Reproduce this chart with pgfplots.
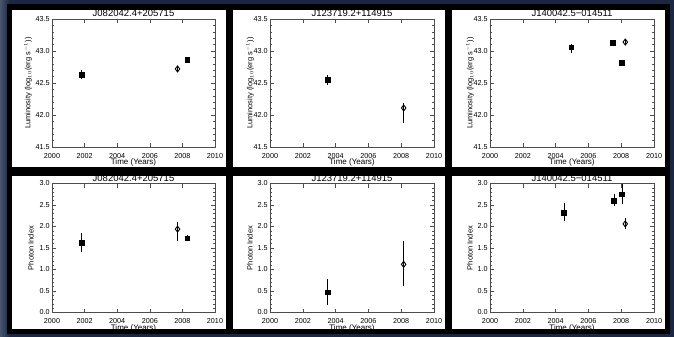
\documentclass[border=0pt]{standalone}
\usepackage{fontspec}
\setmainfont{Liberation Sans}
\usepackage{pgfplots}
\pgfplotsset{compat=1.18}
\definecolor{navy}{RGB}{26,38,66}
\definecolor{navyl}{RGB}{70,84,108}
\pgfplotsset{
  panel/.style={
    scale only axis, width=164pt, height=128pt,
    xmin=2000, xmax=2010, xtick={2000,2002,...,2010}, minor x tick num=3,
    tick align=inside, major tick length=4pt, minor tick length=2pt,
    axis line style={black!70, line width=0.6pt},
    every tick/.style={black!70, line width=0.5pt},
    /pgf/number format/assume math mode=true,
    xticklabel style={font=\fontsize{7.2}{8}\selectfont, /pgf/number format/set thousands separator={}, yshift=-2.5pt},
    yticklabel style={font=\fontsize{7.2}{8}\selectfont, /pgf/number format/fixed, /pgf/number format/fixed zerofill, /pgf/number format/precision=1, xshift=1.2pt},
    xlabel style={font=\fontsize{8}{9}\selectfont, at={(axis description cs:0.5,0)}, anchor=center, yshift=-15.8pt},
    xlabel={Time (Years)},
    clip=false,
    error bars/y dir=both, error bars/y explicit,
    error bars/error mark=none,
    error bars/error bar style={black, line width=0.6pt},
  },
  lum/.style={panel, ymin=41.5, ymax=43.5, ytick={41.5,42,...,43.5}, minor y tick num=4,
    ylabel={Luminosity (log$_{10}$(erg s$^{-1}$))},
    ylabel style={font=\fontsize{7.5}{8}\selectfont, anchor=center}},
  gam/.style={panel, ymin=0, ymax=3, ytick={0,0.5,...,3}, minor y tick num=4,
    ylabel={Photon Index},
    ylabel style={font=\fontsize{7.5}{8}\selectfont, anchor=center}},
  sq/.style={only marks, mark=square*, mark size=2.4pt, black, mark options={fill=black}},
  dm/.style={only marks, mark=diamond, mark size=3pt, black, mark options={line width=0.9pt}},
}
\newcommand{\ptitle}[1]{\node[anchor=base, font=\fontsize{9.5}{10}\selectfont, yshift=2pt] at (rel axis cs:0.5,1) {#1};}
\begin{document}
\begin{tikzpicture}
\useasboundingbox (0pt,0pt) rectangle (674pt,337pt);
\fill[navy] (0pt,0pt) rectangle (674pt,337pt);
\shade[left color=navyl, right color=navy] (0pt,0pt) rectangle (10pt,337pt);
\fill[black] (7pt,3pt) rectangle (670pt,333pt);
% white panels
\foreach \xa/\xb in {12/226,233/445,452/665}{
  \fill[white] (\xa pt,170pt) rectangle (\xb pt,327pt);
  \fill[white] (\xa pt,8pt) rectangle (\xb pt,161pt);
}
% ---------- top row ----------
\begin{scope}
\clip (12pt,170pt) rectangle (226pt,327pt);
\begin{axis}[lum, at={(52pt,190pt)}, anchor=south west, width=163pt,
  ylabel style={at={(axis description cs:-0.147,0.5)}}]
\addplot[sq] coordinates {(2001.8,42.63) += (0,0.08) -= (0,0.06)};
\addplot[dm] coordinates {(2007.7,42.72) += (0,0.03) -= (0,0.03)};
\addplot[sq] coordinates {(2008.3,42.86) += (0,0.03) -= (0,0.03)};
\ptitle{J082042.4+205715}
\end{axis}
\end{scope}
\begin{scope}
\clip (233pt,170pt) rectangle (445pt,327pt);
\begin{axis}[lum, at={(270pt,190pt)}, anchor=south west,
  ylabel style={at={(axis description cs:-0.122,0.5)}}]
\addplot[sq] coordinates {(2003.5,42.55) += (0,0.07) -= (0,0.08)};
\addplot[dm] coordinates {(2008.15,42.11) += (0,0.07) -= (0,0.23)};
\ptitle{J123719.2+114915}
\end{axis}
\end{scope}
\begin{scope}
\clip (452pt,170pt) rectangle (665pt,327pt);
\begin{axis}[lum, at={(490pt,190pt)}, anchor=south west,
  ylabel style={at={(axis description cs:-0.122,0.5)}}]
\addplot[sq] coordinates {(2004.95,43.06) += (0,0.05) -= (0,0.09)};
\addplot[sq] coordinates {(2007.5,43.13) += (0,0.02) -= (0,0.02)};
\addplot[sq] coordinates {(2008.05,42.82) += (0,0.04) -= (0,0.04)};
\addplot[dm] coordinates {(2008.25,43.14) += (0,0.03) -= (0,0.03)};
\ptitle{J140042.5−014511}
\end{axis}
\end{scope}
% ---------- bottom row ----------
\begin{scope}
\clip (12pt,8pt) rectangle (226pt,161pt);
\begin{axis}[gam, at={(52pt,24.5pt)}, anchor=south west, width=163pt, height=129pt,
  ylabel style={at={(axis description cs:-0.129,0.5)}}]
\addplot[sq] coordinates {(2001.8,1.62) += (0,0.22) -= (0,0.21)};
\addplot[dm] coordinates {(2007.7,1.94) += (0,0.16) -= (0,0.27)};
\addplot[sq] coordinates {(2008.3,1.73) += (0,0.07) -= (0,0.04)};
\ptitle{J082042.4+205715}
\end{axis}
\end{scope}
\begin{scope}
\clip (233pt,8pt) rectangle (445pt,161pt);
\begin{axis}[gam, at={(270pt,24.5pt)}, anchor=south west, height=129pt,
  ylabel style={at={(axis description cs:-0.122,0.5)}}]
\addplot[sq] coordinates {(2003.5,0.47) += (0,0.31) -= (0,0.29)};
\addplot[dm] coordinates {(2008.15,1.12) += (0,0.55) -= (0,0.50)};
\ptitle{J123719.2+114915}
\end{axis}
\end{scope}
\begin{scope}
\clip (452pt,8pt) rectangle (665pt,161pt);
\begin{axis}[gam, at={(490pt,24.5pt)}, anchor=south west, height=129pt,
  ylabel style={at={(axis description cs:-0.122,0.5)}}]
\addplot[sq] coordinates {(2004.5,2.32) += (0,0.22) -= (0,0.20)};
\addplot[sq] coordinates {(2007.55,2.60) += (0,0.15) -= (0,0.13)};
\addplot[sq] coordinates {(2008.05,2.75) += (0,0.25) -= (0,0.22)};
\addplot[dm] coordinates {(2008.25,2.06) += (0,0.14) -= (0,0.12)};
\ptitle{J140042.5−014511}
\end{axis}
\end{scope}
\end{tikzpicture}
\end{document}
